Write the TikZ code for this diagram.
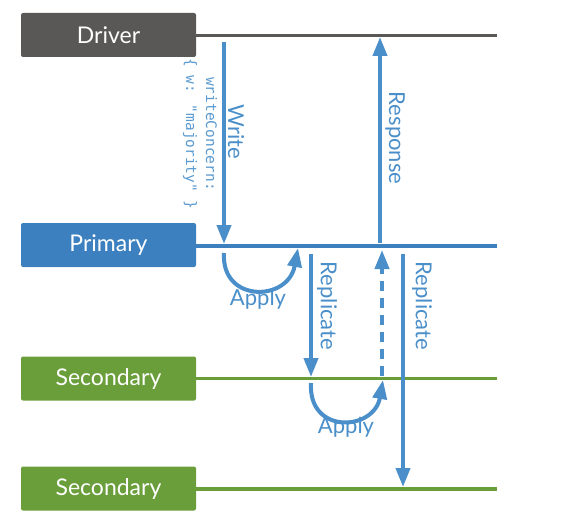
\documentclass[tikz,border=0pt]{standalone}
\usepackage{fontspec}
\setmainfont{Lato}
\newfontfamily\codefont{DejaVu Sans Mono}
\usetikzlibrary{arrows.meta}
\definecolor{drv}{HTML}{595856}
\definecolor{pri}{HTML}{3D80BF}
\definecolor{sec}{HTML}{6A9E3A}
\definecolor{arr}{HTML}{4A8FC9}
\definecolor{code}{HTML}{5A9AD0}
\tikzset{
  rolebox/.style={minimum width=175pt, minimum height=44pt, inner sep=0pt,
    rounded corners=2pt, text=white, font=\fontsize{23}{26}\selectfont},
  timeline/.style={line width=3.5pt},
  msg/.style={draw=arr, line width=4pt, -{Triangle[width=14pt,length=19pt]}},
  msglabel/.style={text=arr, rotate=-90, inner sep=0pt, font=\fontsize{22}{24}\selectfont},
  applylabel/.style={text=arr, inner sep=0pt, font=\fontsize{22}{24}\selectfont},
}
\begin{document}
\begin{tikzpicture}[x=1pt,y=-1pt]
\useasboundingbox (0,0) rectangle (561,529);
% role boxes
\node[rolebox, fill=drv] (driver) at (108.5,35) {Driver};
\node[rolebox, fill=pri] (primary) at (108.5,245) {Primary};
\node[rolebox, fill=sec] (sec1) at (108.5,378.5) {Secondary};
\node[rolebox, fill=sec] (sec2) at (108.5,488.5) {Secondary};
% timelines
\coordinate (dEnd) at (497,35.5);
\coordinate (pEnd) at (497,246);
\coordinate (s1End) at (497,378.5);
\coordinate (s2End) at (497,489);
\draw[timeline, drv] (driver.east |- dEnd) -- (dEnd);
\draw[timeline, pri] (primary.east |- pEnd) -- (pEnd);
\draw[timeline, sec] (sec1.east |- s1End) -- (s1End);
\draw[timeline, sec] (sec2.east |- s2End) -- (s2End);
% arrow end points
\coordinate (w1) at (224,42);
\coordinate (w2) at (224,244);
\coordinate (r1) at (380,243);
\coordinate (r2) at (380,37);
\coordinate (a1s) at (224,253);
\coordinate (a1e) at (298,248);
\coordinate (p1s) at (311,254);
\coordinate (p1e) at (311,377);
\coordinate (ds) at (382,376);
\coordinate (de) at (382,250);
\coordinate (p2s) at (403,254);
\coordinate (p2e) at (403,487);
\coordinate (a2s) at (311,383);
\coordinate (a2e) at (383,380);
% arrows
\draw[msg] (w1) -- (w2);
\draw[msg] (r1) -- (r2);
\draw[msg] (a1s) .. controls (221,303) and (288,302) .. (a1e);
\draw[msg] (p1s) -- (p1e);
\draw[msg, dash pattern=on 10pt off 7pt] (ds) -- (de);
\draw[msg] (p2s) -- (p2e);
\draw[msg] (a2s) .. controls (308,435) and (374,431) .. (a2e);
% labels
\node[msglabel] (lwrite) at (236,132) {Write};
\node[msglabel] (lresp) at (395,138) {Response};
\node[msglabel] (lrep1) at (327,306) {Replicate};
\node[msglabel] (lrep2) at (422,306) {Replicate};
\node[applylabel] (lap1) at (258,299) {Apply};
\node[applylabel] (lap2) at (346,427) {Apply};
\node[text=code, rotate=-90, align=center, inner sep=0pt,
  font=\codefont\fontsize{14.5}{20}\selectfont] (wc) at (200,134)
  {writeConcern:\\\{ w: "majority" \}};
\end{tikzpicture}
\end{document}
